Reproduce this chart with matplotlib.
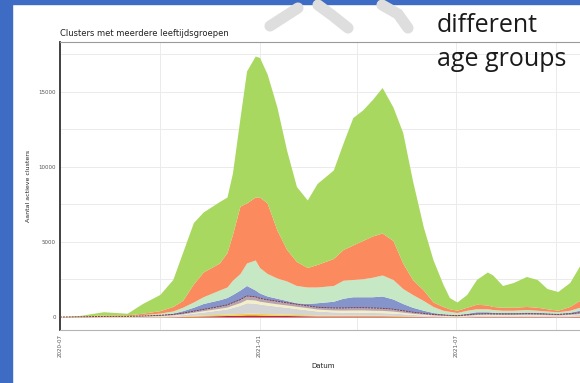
#!/usr/bin/env python3
# -*- coding: utf-8 -*-
"""
Stacked area chart: active clusters with several age groups (screenshot of a slide)
"""

import matplotlib
matplotlib.use('Agg')
import matplotlib.pyplot as plt
from matplotlib.lines import Line2D
from matplotlib.patches import Rectangle
import numpy as np
import pandas as pd

# Sample dates
datums = ['2020-07-01', '2020-07-19', '2020-08-10', '2020-09-01', '2020-09-15',
          '2020-10-01', '2020-10-13', '2020-10-22', '2020-11-01', '2020-11-10',
          '2020-11-25', '2020-12-02', '2020-12-07', '2020-12-14', '2020-12-20',
          '2020-12-28', '2021-01-01', '2021-01-08', '2021-01-17', '2021-01-26',
          '2021-02-04', '2021-02-14', '2021-02-23', '2021-03-10', '2021-03-19',
          '2021-03-28', '2021-04-06', '2021-04-15', '2021-04-24', '2021-05-04',
          '2021-05-13', '2021-05-22', '2021-06-01', '2021-06-10', '2021-06-19',
          '2021-06-25', '2021-07-02', '2021-07-11', '2021-07-20', '2021-07-30',
          '2021-08-04', '2021-08-13', '2021-08-23', '2021-09-04', '2021-09-14',
          '2021-09-23', '2021-10-03', '2021-10-14', '2021-10-23', '2021-10-29']

# Upper edge of each stacked band (number of active clusters), bottom to top
rood_top = [0, 2, 5, 5, 10, 15, 25, 35, 50, 70, 90, 100, 110, 120, 140, 140, 130,
            120, 110, 100, 90, 80, 70, 70, 70, 70, 70, 70, 70, 60, 50, 40, 30, 25,
            20, 15, 15, 20, 30, 30, 30, 30, 30, 30, 30, 30, 25, 30, 40, 45]
geel_top = [0, 5, 12, 14, 25, 35, 55, 75, 110, 140, 170, 190, 210, 230, 260, 255,
            240, 225, 205, 185, 165, 150, 135, 130, 130, 130, 130, 125, 125, 110,
            90, 75, 55, 45, 35, 30, 28, 45, 60, 65, 62, 60, 60, 65, 62, 55, 50, 60,
            80, 90]
grijs_top = [0, 9, 22, 26, 45, 70, 110, 165, 260, 330, 470, 540, 640, 780, 950, 920,
             860, 800, 720, 650, 560, 480, 400, 340, 320, 320, 310, 300, 290, 260,
             220, 170, 130, 100, 80, 70, 60, 90, 130, 140, 135, 130, 130, 140, 135,
             120, 110, 130, 170, 200]
creme_top = [0, 11, 28, 33, 57, 90, 140, 205, 315, 420, 580, 660, 790, 960, 1170,
             1130, 1050, 970, 880, 800, 710, 620, 530, 470, 460, 470, 470, 450, 440,
             390, 320, 245, 185, 135, 105, 90, 75, 115, 165, 180, 172, 165, 165, 180,
             172, 155, 140, 170, 225, 260]
bruin_top = [0, 15, 35, 40, 70, 110, 170, 250, 380, 500, 700, 800, 950, 1150, 1400,
             1350, 1250, 1150, 1050, 950, 850, 750, 650, 600, 600, 620, 620, 600, 580,
             520, 420, 320, 240, 170, 130, 110, 90, 140, 200, 220, 210, 200, 200, 220,
             210, 190, 170, 210, 280, 320]
blauw_top = [0, 25, 55, 60, 110, 170, 260, 420, 650, 900, 1150, 1300, 1500, 1800,
             2100, 1800, 1600, 1400, 1250, 1100, 950, 900, 950, 1050, 1250, 1350,
             1350, 1350, 1400, 1200, 900, 650, 450, 300, 220, 180, 150, 250, 350, 350,
             320, 300, 300, 330, 320, 280, 250, 320, 450, 500]
lichtgroen_top = [0, 40, 80, 90, 160, 260, 400, 650, 1000, 1350, 1800, 2000, 2450,
                  2900, 3600, 3800, 3300, 2900, 2600, 2400, 2100, 2000, 2000, 2100,
                  2450, 2500, 2550, 2650, 2800, 2500, 1900, 1500, 1100, 700, 450, 380,
                  300, 450, 550, 550, 500, 450, 450, 500, 450, 400, 350, 450, 650, 750]
oranje_top = [0, 60, 130, 140, 250, 420, 700, 1100, 2200, 3000, 3600, 4300, 5500,
              7400, 7600, 8000, 8000, 7600, 5800, 4500, 3700, 3300, 3500, 3900, 4500,
              4800, 5100, 5400, 5600, 5100, 3600, 2500, 1800, 1000, 700, 550, 450, 650,
              850, 800, 700, 650, 650, 700, 650, 550, 450, 700, 1100, 1300]
totaal = [0, 100, 350, 250, 900, 1500, 2500, 4300, 6300, 7000, 7700, 8000, 9600,
          13300, 16400, 17400, 17300, 16200, 14000, 11100, 8700, 7800, 8900, 9800,
          11600, 13300, 13800, 14500, 15300, 14000, 12300, 9100, 6000, 3800, 2200,
          1300, 1000, 1500, 2500, 3000, 2800, 2100, 2300, 2700, 2500, 1900, 1700,
          2300, 3400, 4000]

y_ticks = [0, 5000, 10000, 15000]
x_ticks = ['2020-07-01', '2021-01-01', '2021-07-01']
x_tick_labels = ['2020-07', '2021-01', '2021-07']


def main():
    x = pd.to_datetime(datums)
    randen = [rood_top, geel_top, grijs_top, creme_top, bruin_top, blauw_top,
              lichtgroen_top, oranje_top, totaal]
    kleuren = ['#c0283a', '#f2d33a', '#d4d4d4', '#f3efc4', '#b9a3b0',
               '#8595cb', '#c6e8c4', '#fb8a5e', '#a8d85f']

    fig = plt.figure(figsize=(5.8, 3.83), dpi=100)
    fig.patch.set_facecolor('white')

    # slide decoration: blue edge and grey logo watermark
    fig.add_artist(Rectangle((0, 0), 12 / 580, 1, transform=fig.transFigure,
                             color='#3e6cc4', zorder=0))
    fig.add_artist(Rectangle((0, 1 - 4 / 383), 1, 4 / 383, transform=fig.transFigure,
                             color='#3e6cc4', zorder=0))
    for xs, ys in [([270, 284, 298], [26, 17, 8]),
                   ([318, 333, 348], [5, 16, 28]),
                   ([382, 398, 408], [5, 14, 28])]:
        fig.add_artist(Line2D(np.array(xs) / 580, 1 - np.array(ys) / 383,
                              transform=fig.transFigure, color='#dedede',
                              lw=8, solid_capstyle='round', zorder=0))

    ax = fig.add_axes([60 / 580, 1 - 330 / 383, 526 / 580, 288 / 383])
    ax.set_facecolor('white')

    onder = np.zeros(len(datums))
    for rand, kleur in zip(randen, kleuren):
        ax.fill_between(x, onder, rand, color=kleur, lw=0, zorder=2)
        onder = np.array(rand)
    ax.plot(x, bruin_top, color='#8b3a2a', lw=0.7, ls=(0, (2, 1)), zorder=3)

    ax.set_xlim(pd.Timestamp('2020-07-01'), pd.Timestamp('2021-10-29'))
    ax.set_ylim(-867, 18333)

    # grid like ggplot, major and minor
    ax.set_yticks(y_ticks)
    ax.set_yticks([2500, 7500, 12500, 17500], minor=True)
    ax.set_xticks(pd.to_datetime(x_ticks))
    ax.set_xticks(pd.to_datetime(['2020-10-01', '2021-04-01', '2021-10-01']), minor=True)
    ax.set_xticklabels(x_tick_labels, rotation=90, fontsize=4, color='#555555')
    ax.set_yticklabels([str(t) for t in y_ticks], fontsize=4, color='#555555')
    ax.grid(True, which='both', color='#ebebeb', lw=0.7, zorder=0)
    ax.set_axisbelow(True)
    ax.tick_params(which='both', length=0, pad=3)

    ax.spines['left'].set_color('#333333')
    ax.spines['left'].set_linewidth(1.3)
    ax.spines['top'].set_color('#9a9a9a')
    ax.spines['top'].set_linewidth(0.8)
    ax.spines['bottom'].set_color('#b5b5b5')
    ax.spines['bottom'].set_linewidth(0.8)
    ax.spines['right'].set_visible(False)

    ax.set_title('Clusters met meerdere leeftijdsgroepen', loc='left',
                 fontsize=6, color='#222222', pad=4)
    ax.set_ylabel('Aantal actieve clusters', fontsize=4.5, color='#222222', labelpad=5)
    ax.set_xlabel('Datum', fontsize=5, color='#222222', labelpad=4)

    # slide text on top of the chart
    fig.text(437 / 580, 1 - 32 / 383, 'different', fontsize=18, family='Open Sans',
             color='#1a1a1a', ha='left', va='baseline')
    fig.text(437 / 580, 1 - 66 / 383, 'age groups', fontsize=18, family='Open Sans',
             color='#1a1a1a', ha='left', va='baseline')

    fig.savefig('out.png', dpi=100)
    plt.close(fig)


if __name__ == "__main__":
    main()
